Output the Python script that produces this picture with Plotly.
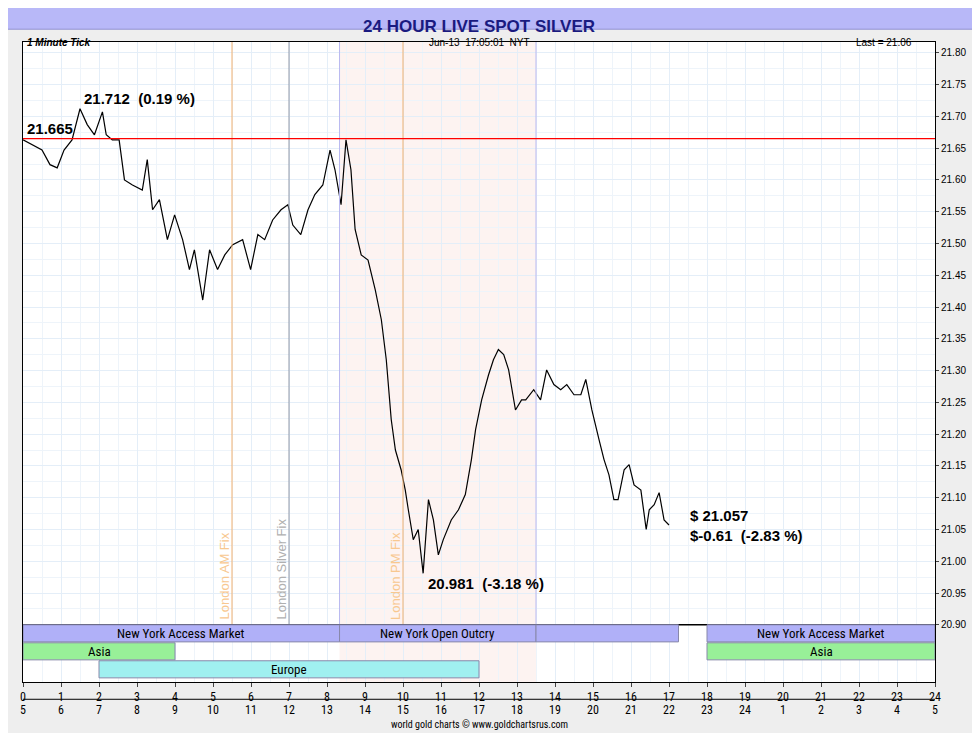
import plotly.graph_objects as go

# hours (NY time) and silver price
hours = [0, .24, .50, .71, .90, 1.08, 1.29, 1.50, 1.69, 1.88, 2.09, 2.19, 2.35, 2.53, 2.67, 2.88,
         3.14, 3.27, 3.41, 3.59, 3.80, 3.99, 4.20, 4.38, 4.51, 4.73, 4.91, 5.12, 5.31, 5.52, 5.78,
         5.99, 6.18, 6.36, 6.57, 6.79, 6.97, 7.10, 7.31, 7.50, 7.68, 7.89, 8.08, 8.21, 8.37, 8.50,
         8.63, 8.74, 8.90, 9.08, 9.27, 9.43, 9.56, 9.69, 9.80, 9.95, 10.06, 10.14, 10.27, 10.40,
         10.53, 10.67, 10.80, 10.93, 11.06, 11.27, 11.46, 11.64, 11.80, 11.91, 12.07, 12.25, 12.38,
         12.51, 12.65, 12.78, 12.96, 13.12, 13.23, 13.44, 13.62, 13.78, 13.97, 14.15, 14.31, 14.50,
         14.68, 14.81, 14.97, 15.16, 15.29, 15.42, 15.55, 15.66, 15.82, 15.95, 16.08, 16.26, 16.40,
         16.48, 16.61, 16.74, 16.87, 17.00]
price = [21.663, 21.655, 21.647, 21.624, 21.619, 21.647, 21.663, 21.712, 21.687, 21.671, 21.707,
         21.671, 21.663, 21.663, 21.600, 21.592, 21.584, 21.632, 21.553, 21.569, 21.506, 21.545,
         21.506, 21.459, 21.490, 21.411, 21.490, 21.459, 21.482, 21.498, 21.506, 21.459, 21.514,
         21.506, 21.537, 21.553, 21.561, 21.529, 21.514, 21.553, 21.577, 21.592, 21.647, 21.616,
         21.561, 21.663, 21.616, 21.522, 21.482, 21.474, 21.427, 21.380, 21.317, 21.223, 21.175,
         21.144, 21.112, 21.081, 21.034, 21.050, 20.981, 21.097, 21.065, 21.010, 21.034, 21.065,
         21.081, 21.105, 21.160, 21.207, 21.254, 21.293, 21.317, 21.333, 21.325, 21.301, 21.238,
         21.254, 21.254, 21.270, 21.254, 21.301, 21.278, 21.270, 21.278, 21.262, 21.262, 21.286,
         21.238, 21.191, 21.160, 21.136, 21.097, 21.097, 21.144, 21.152, 21.120, 21.112, 21.050,
         21.081, 21.089, 21.108, 21.065, 21.057]
open_price = 21.665
nyt_ticks = list(range(25))
gmt_labels = [str((h + 5 - 1) % 24 + 1) for h in range(25)]

fig = go.Figure()
fig.add_trace(go.Scatter(x=hours, y=price, mode="lines", line=dict(color="black", width=1.2),
                         hoverinfo="skip"))

shapes = []
Y0, Y1 = 20.81, 21.817
# NY session shading
shapes.append(dict(type="rect", x0=8.33, x1=13.5, y0=Y0, y1=Y1, fillcolor="rgba(250,220,215,0.35)",
                   line=dict(width=0), layer="below"))
for xv, c in [(8.33, "#b8b8f0"), (13.5, "#b8b8f0"), (5.5, "#f0b070"), (7.0, "#9098a8"), (10.0, "#f0b070")]:
    shapes.append(dict(type="line", x0=xv, x1=xv, y0=20.90, y1=Y1, line=dict(color=c, width=1)))
shapes.append(dict(type="line", x0=0, x1=24, y0=open_price, y1=open_price, line=dict(color="red", width=1.2)))
shapes.append(dict(type="line", x0=0, x1=24, y0=20.90, y1=20.90, line=dict(color="black", width=1.5)))
# separator between NYT and GMT scales
shapes.append(dict(type="line", yref="paper", x0=0, x1=24, y0=-0.027, y1=-0.027, line=dict(color="black", width=1)))

bars = [(0, 8.33, 0, "#b0b0f8", "New York Access Market"), (8.33, 13.5, 0, "#b0b0f8", "New York Open Outcry"),
        (13.5, 17.25, 0, "#b0b0f8", ""), (18, 24, 0, "#b0b0f8", "New York Access Market"),
        (0, 4, 1, "#98f098", "Asia"), (18, 24, 1, "#98f098", "Asia"), (2, 12, 2, "#a0f0f0", "Europe")]
row_h = 0.0283
narrowfam = "Liberation Sans Narrow, Roboto Condensed, DejaVu Sans Condensed, Liberation Sans, sans-serif"
annotations = []
for x0, x1, r, c, t in bars:
    top = 20.90 - r * row_h
    shapes.append(dict(type="rect", x0=x0, x1=x1, y0=top - row_h * 0.95, y1=top,
                       fillcolor=c, line=dict(color="#8888aa", width=1)))
    if t:
        annotations.append(dict(x=(x0 + x1) / 2, y=top - row_h / 2, text=t, showarrow=False,
                                font=dict(size=13, color="black", family=narrowfam)))

for xv, t, c in [(5.5, "London AM Fix", "#f8c890"), (7.0, "London Silver Fix", "#b0b0b0"), (10.0, "London PM Fix", "#f8c890")]:
    annotations.append(dict(x=xv - 0.2, y=20.905, text=t, textangle=-90, showarrow=False, yanchor="bottom",
                            font=dict(size=13, color=c)))

bold = dict(size=15, color="black", family="Liberation Sans")
annotations += [
    dict(x=1.55, y=21.712, text="<b>21.712  (0.19 %)</b>", showarrow=False, xanchor="left", yanchor="bottom", font=bold),
    dict(x=0.05, y=open_price, text="<b>21.665</b>", showarrow=False, xanchor="left", yanchor="bottom", font=bold),
    dict(x=10.6, y=20.981, text="<b>20.981  (-3.18 %)</b>", showarrow=False, xanchor="left", yanchor="top", font=bold),
    dict(x=17.5, y=21.057, text="<b>$ 21.057<br>$-0.61  (-2.83 %)</b>", showarrow=False, xanchor="left",
         align="left", font=bold),
]
for i, g in enumerate(gmt_labels):
    annotations.append(dict(x=i, y=-0.043, yref="paper", text=g, showarrow=False, yanchor="middle",
                            font=dict(size=12, color="black", family=narrowfam)))
narrow = dict(size=15, color="black", family=narrowfam)
annotations += [
    dict(x=24.2, y=-0.014, yref="paper", text="<b>NYT</b>", showarrow=False, xanchor="left", yanchor="middle", font=narrow),
    dict(x=24.2, y=-0.045, yref="paper", text="<b>GMT</b>", showarrow=False, xanchor="left", yanchor="middle", font=narrow),
    dict(x=0.5, y=-0.066, xref="paper", yref="paper", yanchor="middle", text="world gold charts © www.goldchartsrus.com",
         showarrow=False, font=dict(size=10, color="black", family=narrowfam)),
    dict(x=0.5, y=1.042, xref="paper", yref="paper", text="<b>24 HOUR LIVE SPOT SILVER</b>", showarrow=False,
         font=dict(size=17, color="#1a1a80")),
    dict(x=0.002, y=1.011, xref="paper", yref="paper", text="<i><b>1 Minute Tick</b></i>", showarrow=False,
         xanchor="left", font=dict(size=10, color="black")),
    dict(x=0.5, y=1.011, xref="paper", yref="paper", text="Jun-13  17:05:01  NYT", showarrow=False,
         font=dict(size=10, color="black")),
    dict(x=0.977, y=1.011, xref="paper", yref="paper", text="Last = 21.06", showarrow=False, xanchor="right",
         font=dict(size=10, color="black")),
]

# title bar
shapes.insert(0, dict(type="rect", xref="paper", yref="paper", x0=-0.019, x1=1.045, y0=1.02, y1=1.063,
                      fillcolor="#b8b8f8", line=dict(color="#9090d0", width=1), layer="below"))

fig.update_layout(
    width=980, height=733, margin=dict(l=13, r=53, t=34, b=59),
    paper_bgcolor="#eeeeee", plot_bgcolor="white", showlegend=False,
    font=dict(family="Liberation Sans, Arial", size=11, color="black"),
    xaxis=dict(range=[0, 24], tickvals=nyt_ticks, ticks="outside", ticklen=4, showgrid=True,
               gridcolor="#e4eef8", zeroline=False, showline=True, linecolor="black", mirror=True,
               minor=dict(dtick=0.5, showgrid=True, gridcolor="#eef4fa"),
               tickfont=dict(size=12, family=narrowfam)),
    yaxis=dict(range=[Y0, Y1], side="right", tickvals=[round(20.90 + 0.05 * i, 2) for i in range(19)],
               tickformat=".2f", showgrid=True, gridcolor="#e4eef8", zeroline=False, showline=True,
               linecolor="black", mirror=True, ticks="outside", ticklen=3, tickfont=dict(size=10),
               minor=dict(tickvals=[round(20.925 + 0.05 * i, 3) for i in range(18)], showgrid=True,
                          gridcolor="#eef4fa")),
    shapes=shapes, annotations=annotations,
)
fig.write_html("out.html")
